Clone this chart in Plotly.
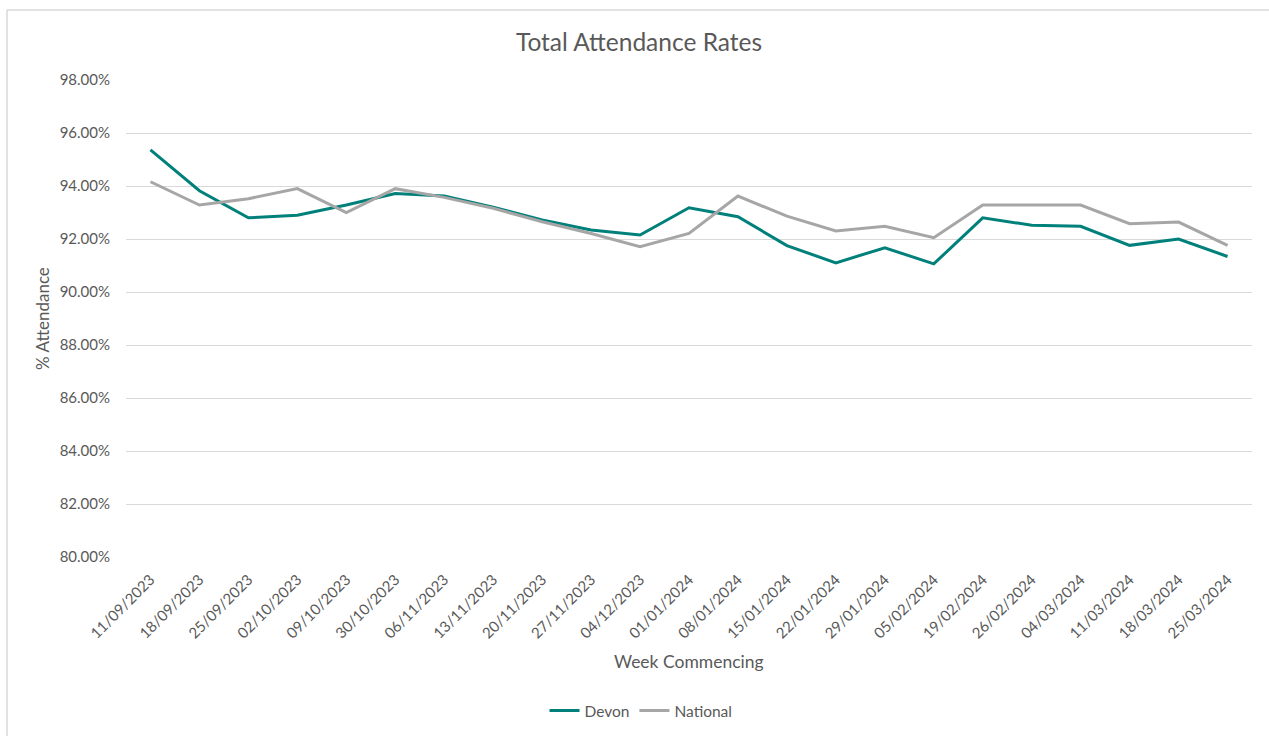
import plotly.graph_objects as go

weeks = ["11/09/2023", "18/09/2023", "25/09/2023", "02/10/2023", "09/10/2023",
         "30/10/2023", "06/11/2023", "13/11/2023", "20/11/2023", "27/11/2023",
         "04/12/2023", "01/01/2024", "08/01/2024", "15/01/2024", "22/01/2024",
         "29/01/2024", "05/02/2024", "19/02/2024", "26/02/2024", "04/03/2024",
         "11/03/2024", "18/03/2024", "25/03/2024"]

devon = [95.36, 93.82, 92.80, 92.90, 93.28, 93.72, 93.62, 93.20, 92.72, 92.34,
         92.15, 93.18, 92.84, 91.75, 91.10, 91.67, 91.06, 92.80, 92.52, 92.48,
         91.76, 92.00, 91.34]

national = [94.16, 93.28, 93.52, 93.90, 93.00, 93.90, 93.57, 93.16, 92.65, 92.21,
            91.71, 92.21, 93.62, 92.86, 92.30, 92.48, 92.05, 93.28, 93.28, 93.28,
            92.58, 92.64, 91.76]

y_ticks = [80, 82, 84, 86, 88, 90, 92, 94, 96, 98]
y_tick_text = [f"{v:.2f}%" for v in y_ticks]

W, H = 1269, 736
ML, MR, MT, MB = 126, 17, 80, 179
FONT = "Lato, 'Open Sans', sans-serif"
TXT = "#595959"

fig = go.Figure()
fig.add_trace(go.Scatter(x=weeks, y=devon, mode="lines", name="Devon",
                         line=dict(color="#00807B", width=3)))
fig.add_trace(go.Scatter(x=weeks, y=national, mode="lines", name="National",
                         line=dict(color="#A6A6A6", width=3)))

pw = W - ML - MR
ph = H - MT - MB


def px_x(px):
    return (px - ML) / pw


def px_y(py):
    return (H - MB - py) / ph


# chart frame (Excel-style border)
fig.add_shape(type="line", xref="paper", yref="paper",
              x0=px_x(7), x1=px_x(W + 5), y0=px_y(10), y1=px_y(10),
              line=dict(color="#D9D9D9", width=1.5))
fig.add_shape(type="line", xref="paper", yref="paper",
              x0=px_x(7), x1=px_x(7), y0=px_y(10), y1=px_y(H + 5),
              line=dict(color="#D9D9D9", width=1.5))

fig.add_annotation(text="% Attendance", xref="paper", yref="paper",
                   x=px_x(42), y=px_y(319), textangle=-90, showarrow=False,
                   font=dict(family=FONT, size=17, color=TXT),
                   xanchor="center", yanchor="middle")
fig.add_annotation(text="Week Commencing", xref="paper", yref="paper",
                   x=px_x(689), y=px_y(661), showarrow=False,
                   font=dict(family=FONT, size=17.5, color=TXT),
                   xanchor="center", yanchor="middle")

fig.update_layout(
    width=W, height=H,
    margin=dict(l=ML, r=MR, t=MT, b=MB, autoexpand=False),
    paper_bgcolor="white", plot_bgcolor="white",
    title=dict(text="Total Attendance Rates", x=639 / W, xref="container",
               y=1 - 42 / H, yref="container", xanchor="center", yanchor="middle",
               font=dict(family=FONT, size=24.5, color=TXT)),
    showlegend=True,
    legend=dict(orientation="h", xref="container", yref="container",
                x=641 / W, y=1 - 711 / H, xanchor="center", yanchor="middle",
                font=dict(family=FONT, size=15.5, color=TXT),
                tracegroupgap=0),
    xaxis=dict(type="category", range=[-0.5, len(weeks) - 0.5],
               showgrid=False, zeroline=False, showline=False,
               tickangle=-45, ticks="", ticklabelstandoff=10,
               tickfont=dict(family=FONT, size=15, color=TXT)),
    yaxis=dict(range=[80, 98], tickvals=y_ticks, ticktext=y_tick_text,
               showgrid=True, gridcolor="#D9D9D9", gridwidth=1,
               zeroline=False, showline=False, ticks="", ticklabelstandoff=15,
               tickfont=dict(family=FONT, size=15, color=TXT)),
)

fig.write_html("out.html", config={"displayModeBar": False},
               post_script="document.body.style.margin='0';")
